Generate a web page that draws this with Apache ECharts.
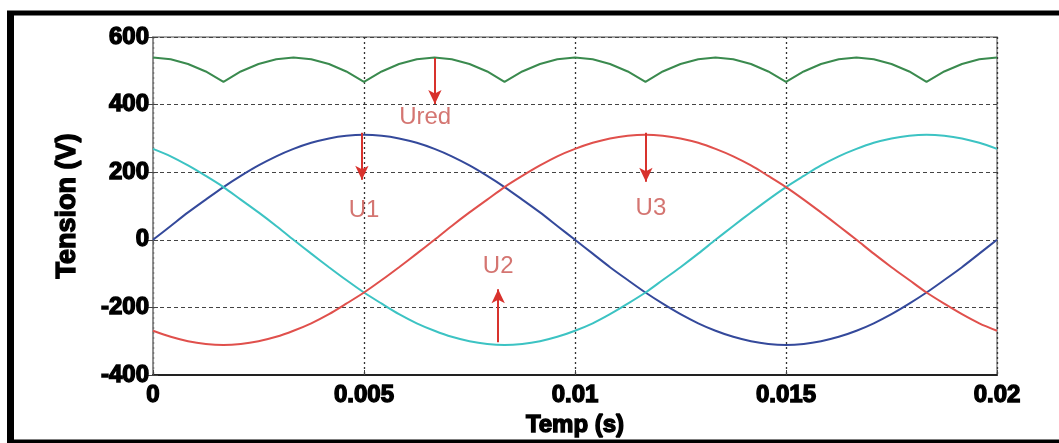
<!DOCTYPE html>
<html>
<head>
<meta charset="utf-8">
<title>Tension triphasée et tension redressée</title>
<script src="https://cdn.jsdelivr.net/npm/echarts@6/dist/echarts.min.js"></script>
<style>
  html, body { margin: 0; padding: 0; background: #fff; }
  #chart { width: 1059px; height: 443px; }
</style>
</head>
<body>
<div id="chart"></div>
<script>
// Sample instants over one 50 Hz period (s)
const times = [0, 0.00042, 0.00083, 0.00125, 0.00167, 0.00208, 0.0025, 0.00292, 0.00333, 0.00375,
  0.00417, 0.00458, 0.005, 0.00542, 0.00583, 0.00625, 0.00667, 0.00708, 0.0075, 0.00792,
  0.00833, 0.00875, 0.00917, 0.00958, 0.01, 0.01042, 0.01083, 0.01125, 0.01167, 0.01208,
  0.0125, 0.01292, 0.01333, 0.01375, 0.01417, 0.01458, 0.015, 0.01542, 0.01583, 0.01625,
  0.01667, 0.01708, 0.0175, 0.01792, 0.01833, 0.01875, 0.01917, 0.01958, 0.02];

// Phase voltages (V)
const u1 = [0, 41, 81, 119, 156, 189, 220, 247, 269, 287, 300, 308, 311, 308, 300, 287, 269, 247, 220, 189,
  156, 119, 81, 41, 0, -41, -81, -119, -156, -189, -220, -247, -269, -287, -300, -308, -311, -308, -300, -287,
  -269, -247, -220, -189, -156, -119, -81, -41, 0];
const u2 = [269, 247, 220, 189, 156, 119, 81, 41, 0, -41, -81, -119, -156, -189, -220, -247, -269, -287, -300, -308,
  -311, -308, -300, -287, -269, -247, -220, -189, -156, -119, -81, -41, 0, 41, 81, 119, 156, 189, 220, 247,
  269, 287, 300, 308, 311, 308, 300, 287, 269];
const u3 = [-269, -287, -300, -308, -311, -308, -300, -287, -269, -247, -220, -189, -156, -119, -81, -41, 0, 41, 81, 119,
  156, 189, 220, 247, 269, 287, 300, 308, 311, 308, 300, 287, 269, 247, 220, 189, 156, 119, 81, 41,
  0, -41, -81, -119, -156, -189, -220, -247, -269];

// Rectified (bridge output) voltage (V)
const ured = [539, 534, 520, 498, 467, 498, 520, 534, 539, 534, 520, 498, 467, 498, 520, 534,
  539, 534, 520, 498, 467, 498, 520, 534, 539, 534, 520, 498, 467, 498, 520, 534,
  539, 534, 520, 498, 467, 498, 520, 534, 539, 534, 520, 498, 467, 498, 520, 534, 539];

// Axis ticks
const xTicks = ['0', '0.005', '0.01', '0.015', '0.02'];
const yTicks = [-400, -200, 0, 200, 400, 600];

// Annotation arrows: [t, from V, to V]
const arrows = [
  [0.00668, 538, 402],
  [0.00495, 317, 178],
  [0.00818, -303, -146],
  [0.01168, 317, 172]
];
// Annotation captions: [t, V, text]
const captions = [
  [0.00645, 361, 'Ured'],
  [0.0050, 88, 'U1'],
  [0.00818, -78, 'U2'],
  [0.0118, 94, 'U3']
];

const pairs = vals => times.map((t, i) => [t, vals[i]]);

const tickFont = {
  color: '#000', fontFamily: 'Liberation Sans', fontWeight: 'bold', fontSize: 24,
  textBorderColor: '#000', textBorderWidth: 1.4
};

const chart = echarts.init(document.getElementById('chart'), null, { renderer: 'canvas' });

chart.setOption({
  animation: false,
  backgroundColor: '#fff',
  grid: { left: 153, top: 37, right: 62, bottom: 67, show: true, borderColor: '#8a8a8a', borderWidth: 1.5 },
  xAxis: [{
    type: 'value', min: 0, max: 0.02, interval: 0.005,
    name: 'Temp (s)', nameLocation: 'middle', nameGap: 33,
    nameTextStyle: Object.assign({}, tickFont, { fontSize: 24 }),
    axisLine: { onZero: false, lineStyle: { color: '#222', width: 2 } },
    axisTick: { inside: true, length: 5, lineStyle: { color: '#444' } },
    axisLabel: Object.assign({}, tickFont, {
      margin: 8,
      formatter: v => xTicks[Math.round(v / 0.005)] ?? ''
    }),
    splitLine: { show: true, lineStyle: { color: '#333', type: [2, 3], width: 1.3 } }
  }, {
    type: 'value', min: 0, max: 0.02, interval: 0.005, position: 'top',
    axisLine: { show: false }, axisLabel: { show: false },
    axisTick: { inside: true, length: 5, lineStyle: { color: '#666' } },
    splitLine: { show: false }
  }],
  yAxis: [{
    type: 'value', min: -400, max: 600, interval: 200,
    name: 'Tension (V)', nameLocation: 'middle', nameGap: 72,
    nameTextStyle: Object.assign({}, tickFont, { fontSize: 27 }),
    axisLine: { show: true, lineStyle: { color: '#8a8a8a', width: 1.5 } },
    axisTick: { show: true, inside: true, length: 5, lineStyle: { color: '#444' } },
    axisLabel: Object.assign({}, tickFont, {
      margin: 4,
      formatter: v => yTicks.includes(v) ? String(v) : ''
    }),
    splitLine: { show: true, lineStyle: { color: '#444', type: [4, 3], width: 1.2 } }
  }, {
    type: 'value', min: -400, max: 600, interval: 200, position: 'right',
    axisLine: { show: false }, axisLabel: { show: false },
    axisTick: { show: true, inside: true, length: 5, lineStyle: { color: '#444' } },
    splitLine: { show: false }
  }],
  series: [
    {
      name: 'Ured', type: 'line', data: pairs(ured), showSymbol: false,
      lineStyle: { color: '#3a8a4e', width: 2 }, z: 3,
      markLine: {
        silent: true, symbol: ['none', 'arrow'], symbolSize: [10, 14],
        label: { show: false },
        lineStyle: { color: '#d8322d', width: 2, type: 'solid' },
        data: arrows.map(a => [{ coord: [a[0], a[1]] }, { coord: [a[0], a[2]] }])
      }
    },
    {
      name: 'U1', type: 'line', data: pairs(u1), showSymbol: false, smooth: 0.3,
      lineStyle: { color: '#34499b', width: 2 }
    },
    {
      name: 'U2', type: 'line', data: pairs(u2), showSymbol: false, smooth: 0.3,
      lineStyle: { color: '#3cc3c3', width: 2 }
    },
    {
      name: 'U3', type: 'line', data: pairs(u3), showSymbol: false, smooth: 0.3,
      lineStyle: { color: '#e0504c', width: 2 }
    },
    {
      name: 'captions', type: 'scatter', data: captions, symbolSize: 0, silent: true,
      label: {
        show: true, position: 'inside', formatter: p => p.value[2],
        color: '#c9524e', fontFamily: 'Liberation Sans', fontSize: 24
      },
      z: 5
    }
  ],
  graphic: [
    { type: 'line', silent: true, shape: { x1: 7, y1: 13, x2: 1059, y2: 13 }, style: { stroke: '#000', lineWidth: 5 } },
    { type: 'line', silent: true, shape: { x1: 10.5, y1: 11, x2: 10.5, y2: 443 }, style: { stroke: '#000', lineWidth: 7 } },
    { type: 'line', silent: true, shape: { x1: 7, y1: 441.5, x2: 1059, y2: 441.5 }, style: { stroke: '#000', lineWidth: 4 } }
  ]
});
</script>
</body>
</html>
